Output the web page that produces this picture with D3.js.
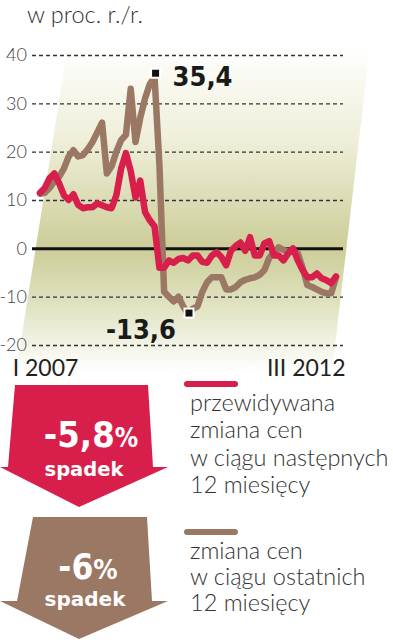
<!DOCTYPE html>
<html>
<head>
<meta charset="utf-8">
<style>
body { margin: 0; background: #fff; }
svg { display: block; }
.yax .tick text { font-family: Lato, "Open Sans", sans-serif; font-weight: 300; font-size: 18px; fill: #444; }
.xax .tick text { font-family: Lato, "Open Sans", sans-serif; font-weight: 400; font-size: 23px; fill: #222; }
.leg { font-family: Lato, "Open Sans", sans-serif; font-weight: 300; font-size: 23.5px; fill: #333; }
.big { font-family: "DejaVu Sans Condensed", "DejaVu Sans", sans-serif; font-weight: bold; fill: #fff; }
.sp { font-family: "DejaVu Sans", sans-serif; font-weight: bold; font-size: 20px; fill: #fff; }
.ann { font-family: "DejaVu Sans Condensed", "DejaVu Sans", sans-serif; font-weight: bold; font-size: 27px; fill: #1a1a1a; }
</style>
</head>
<body>
<script src="https://cdn.jsdelivr.net/npm/d3@7"></script>
<script>
// values, monthly I 2007 - III 2012
var yTicks = [40, 30, 20, 10, 0, -10, -20];
var xLabels = ["I 2007", "III 2012"];
var expected = [11.5, 12.5, 14.5, 15.5, 13.5, 11, 10, 11.2, 9, 8.3,
  8.5, 8.5, 9.3, 8.9, 8.5, 8.3, 11, 16.5, 19.7, 16,
  10.5, 14, 7.5, 5.8, 4.5, -4, -4, -2.5, -3, -2.2,
  -2, -2.5, -1.5, -1.5, -2.8, -3, -1.5, -0.8, -1.8, -3.5,
  -0.5, 0.5, 1.2, -0.5, 2.3, -1.5, -1.5, 1, 1.5, -1.5,
  -1.5, -2.5, -1, 0, -2.5, -4.5, -6, -6, -5.2, -6.2,
  -6.6, -7.2, -5.8];
var actual = [11.3, 11.5, 12.5, 13.8, 14.8, 16.5, 19, 20.3, 19, 19.3,
  20.5, 22, 24, 26, 15.5, 17, 20, 22.4, 23.5, 33,
  22, 27, 31, 34, 35.4, 17.5, -9, -10, -11, -10,
  -12, -13.6, -12.5, -12, -9, -7, -6, -6, -6, -8.5,
  -8.5, -8, -7, -6.5, -6.2, -6, -5.5, -4.5, -2, -0.8,
  0.2, -0.3, -0.8, -0.6, -1, -4, -7.6, -8, -8.5, -9,
  -9.3, -9.3, -6];
var legendRed = ["przewidywana", "zmiana cen", "w ciągu następnych", "12 miesięcy"];
var legendBrown = ["zmiana cen", "w ciągu ostatnich", "12 miesięcy"];

var red = "#d81f4b", brown = "#9b7864";

var svg = d3.select("body").append("svg")
  .attr("width", 393)
  .attr("height", 640);

var x = d3.scaleLinear().domain([0, expected.length - 1]).range([40, 336]);
var y = d3.scaleLinear().domain([-20, 40]).range([345, 55]);

// background shading
var defs = svg.append("defs");
var grad = defs.append("linearGradient")
  .attr("id", "bg").attr("x1", 0).attr("y1", 0).attr("x2", 0).attr("y2", 1);
grad.append("stop").attr("offset", "0%").attr("stop-color", "#ffffff");
grad.append("stop").attr("offset", "30%").attr("stop-color", "#eeeed8");
grad.append("stop").attr("offset", "62%").attr("stop-color", "#cccd98");
grad.append("stop").attr("offset", "80%").attr("stop-color", "#e1e3c2");
grad.append("stop").attr("offset", "100%").attr("stop-color", "#ffffff");

svg.append("path")
  .attr("d", "M68,45 L370,45 L332,372 L16,372 Z")
  .attr("fill", "url(#bg)");

// title
svg.append("text")
  .attr("x", 27).attr("y", 23)
  .style("font-family", "Lato, 'Open Sans', sans-serif")
  .style("font-weight", 300)
  .style("font-size", "23.5px")
  .style("fill", "#333")
  .text("w proc. r./r.");

// y axis with dashed grid
var yAxis = svg.append("g")
  .attr("class", "yax")
  .attr("transform", "translate(32,0)")
  .call(d3.axisLeft(y).tickValues(yTicks).tickSize(-311).tickPadding(5)
    .tickFormat(function(d) { return String(d); }));
yAxis.select(".domain").remove();
yAxis.selectAll(".tick line")
  .attr("stroke", "#333")
  .attr("stroke-width", 1.4)
  .attr("stroke-dasharray", "4,3");
yAxis.selectAll(".tick").filter(function(d) { return d === 0; }).select("line")
  .attr("stroke", "#111")
  .attr("stroke-width", 3)
  .attr("stroke-dasharray", null);

// x axis labels
var xAxis = svg.append("g")
  .attr("class", "xax")
  .attr("transform", "translate(0,350)")
  .call(d3.axisBottom(x).tickValues([0, expected.length - 1]).tickSize(0).tickPadding(4)
    .tickFormat(function(d, i) { return xLabels[i]; }));
xAxis.select(".domain").remove();
xAxis.selectAll(".tick text")
  .attr("text-anchor", function(d, i) { return i === 0 ? "middle" : "end"; })
  .attr("dx", function(d, i) { return i === 0 ? 5 : 9; })
  .attr("dy", "0.95em");

// lines
var line = d3.line()
  .x(function(d, i) { return x(i); })
  .y(function(d) { return y(d); });

svg.append("path")
  .datum(actual)
  .attr("d", line)
  .attr("fill", "none")
  .attr("stroke", brown)
  .attr("stroke-width", 6.5)
  .attr("stroke-linejoin", "round")
  .attr("stroke-linecap", "round");

svg.append("path")
  .datum(expected)
  .attr("d", line)
  .attr("fill", "none")
  .attr("stroke", red)
  .attr("stroke-width", 6.5)
  .attr("stroke-linejoin", "round")
  .attr("stroke-linecap", "round");

// extreme markers
var iMax = d3.maxIndex(actual), iMin = d3.minIndex(actual);
var marks = [
  {i: iMax, v: actual[iMax], dx: 1, dy: -4, lx: 18, ly: 9, anchor: "start"},
  {i: iMin, v: actual[iMin], dx: 1, dy: -1, lx: -12, ly: 25, anchor: "end"}
];
svg.selectAll(".mk")
  .data(marks)
  .enter().append("rect")
  .attr("class", "mk")
  .attr("x", function(d) { return x(d.i) + d.dx - 4.5; })
  .attr("y", function(d) { return y(d.v) + d.dy - 4.5; })
  .attr("width", 9).attr("height", 9)
  .attr("fill", "#111")
  .attr("stroke", "#fff")
  .attr("stroke-width", 2);
svg.selectAll(".ann")
  .data(marks)
  .enter().append("text")
  .attr("class", "ann")
  .attr("x", function(d) { return x(d.i) + d.lx; })
  .attr("y", function(d) { return y(d.v) + d.ly; })
  .attr("text-anchor", function(d) { return d.anchor; })
  .text(function(d) { return String(d.v).replace(".", ","); });

// legend arrows
svg.append("path")
  .attr("d", "M15,385 L148,385 L153,467 L168,467 L79,507 L0,467 L8,467 Z")
  .attr("fill", red);
svg.append("path")
  .attr("d", "M33,517 L147,517 L152,601 L168,601 L79,639 L0,601 L17,601 Z")
  .attr("fill", brown);

var t1 = svg.append("text").attr("class", "big").attr("x", 91).attr("y", 447).attr("text-anchor", "middle");
t1.append("tspan").style("font-size", "36px").text("-5,8");
t1.append("tspan").style("font-size", "26px").text("%");
svg.append("text").attr("class", "sp").attr("x", 84).attr("y", 476).attr("text-anchor", "middle")
  .style("font-size", "19.5px").text("spadek");

var t2 = svg.append("text").attr("class", "big").attr("x", 88).attr("y", 579).attr("text-anchor", "middle");
t2.append("tspan").style("font-size", "35px").text("-6");
t2.append("tspan").style("font-size", "27px").text("%");
svg.append("text").attr("class", "sp").attr("x", 85).attr("y", 606).attr("text-anchor", "middle").text("spadek");

// legend keys and text
svg.append("line").attr("x1", 187).attr("x2", 235).attr("y1", 384).attr("y2", 384)
  .attr("stroke", red).attr("stroke-width", 6).attr("stroke-linecap", "round");
svg.append("line").attr("x1", 187).attr("x2", 235).attr("y1", 532).attr("y2", 532)
  .attr("stroke", brown).attr("stroke-width", 6).attr("stroke-linecap", "round");

svg.selectAll(".lr")
  .data(legendRed)
  .enter().append("text")
  .attr("class", "leg lr")
  .attr("x", 190)
  .attr("y", function(d, i) { return 411 + i * 27.3; })
  .text(function(d) { return d; });

svg.selectAll(".lb")
  .data(legendBrown)
  .enter().append("text")
  .attr("class", "leg lb")
  .attr("x", 190)
  .attr("y", function(d, i) { return 559 + i * 26; })
  .text(function(d) { return d; });
</script>
</body>
</html>
